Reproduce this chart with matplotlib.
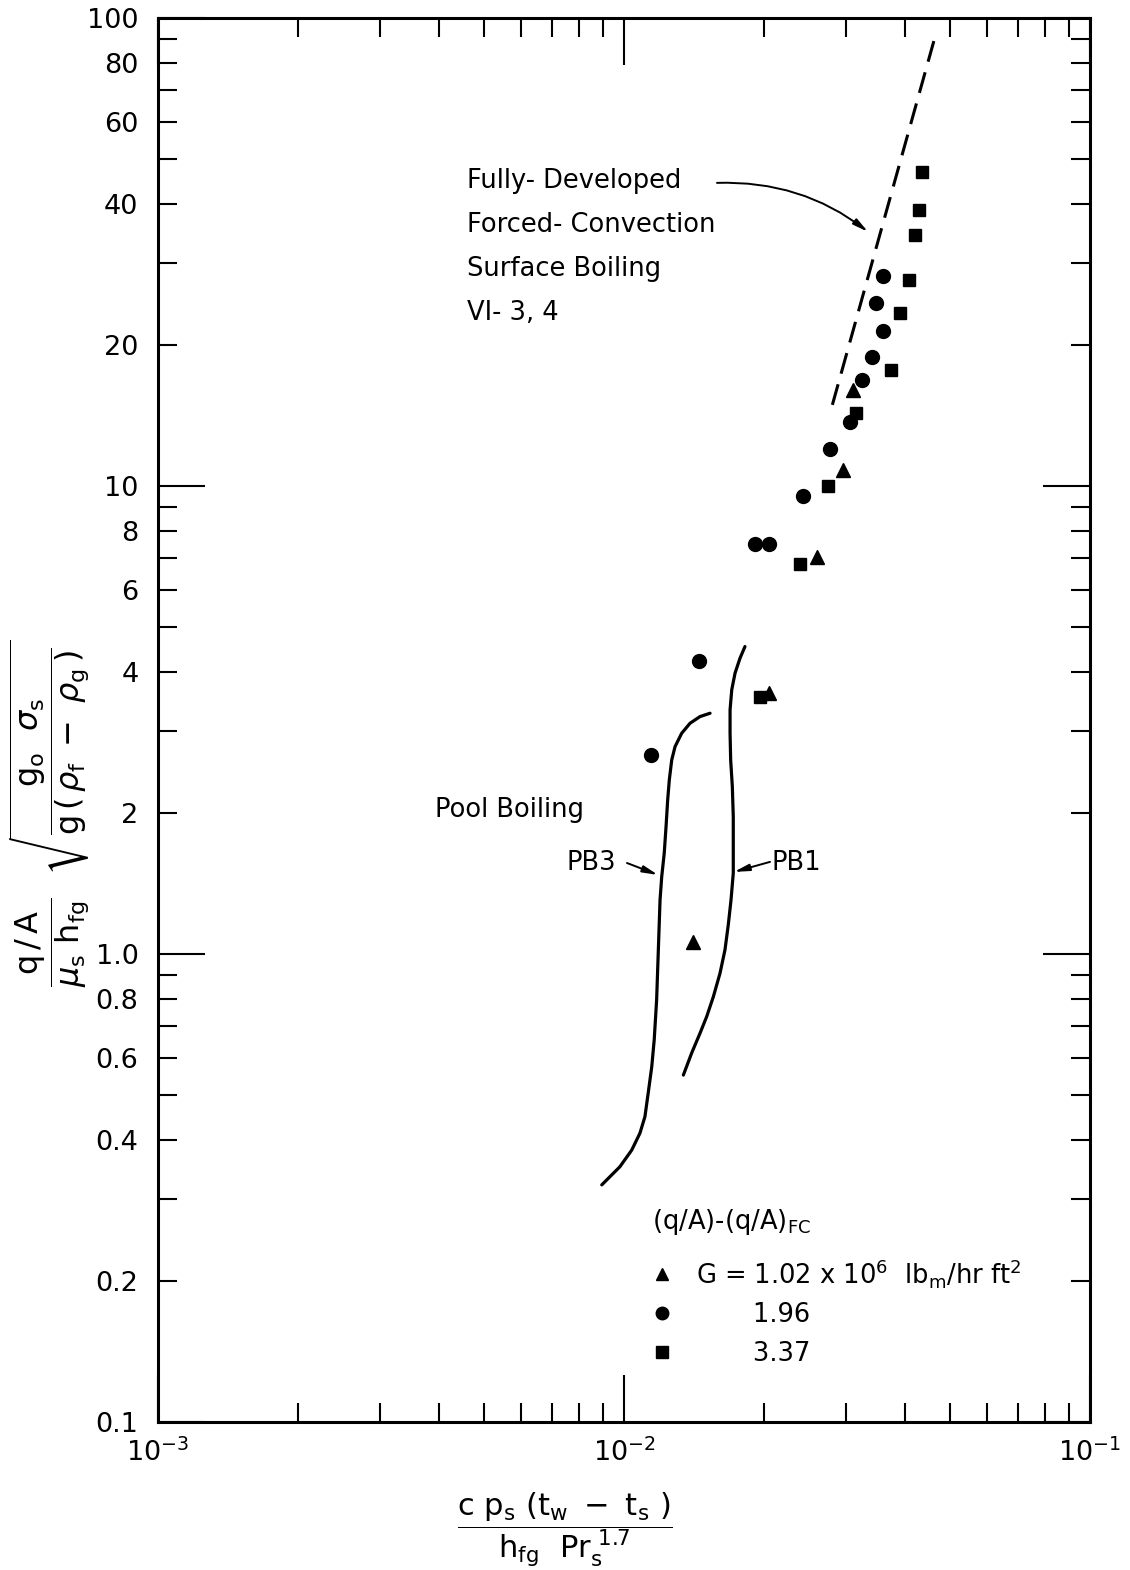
import matplotlib.pyplot as plt
from matplotlib.lines import Line2D

plt.rcParams['font.family'] = 'DejaVu Sans'
plt.rcParams['mathtext.fontset'] = 'dejavusans'

# data points, (q/A)-(q/A)_FC
# G = 1.02 x 10^6
tri_x = [0.01406, 0.02047, 0.02594, 0.0295, 0.0310]
tri_y = [1.061, 3.61, 7.05, 10.82, 16.0]
# G = 1.96 x 10^6
circ_x = [0.01143, 0.01449, 0.0191, 0.0205, 0.0242, 0.0277, 0.0305,
          0.0324, 0.0341, 0.0359, 0.0347, 0.0359]
circ_y = [2.66, 4.23, 7.52, 7.52, 9.52, 12.0, 13.7, 16.8, 18.9, 21.4, 24.6, 28.1]
# G = 3.37 x 10^6
sq_x = [0.0196, 0.0239, 0.0274, 0.0315, 0.0374, 0.0391, 0.0409, 0.0421, 0.0430, 0.0436]
sq_y = [3.54, 6.81, 10.0, 14.3, 17.7, 23.4, 27.6, 34.4, 38.9, 46.9]

# fully developed forced-convection surface boiling (VI-3,4)
fc_x = [0.0280, 0.0465]
fc_y = [14.9, 91.1]

# pool boiling curves
pb3_x = [0.00896, 0.00980, 0.01039, 0.01082, 0.01109, 0.01127, 0.01147, 0.01161,
         0.01175, 0.01185, 0.01195, 0.01205, 0.01220, 0.01231, 0.01241, 0.01251,
         0.01266, 0.01287, 0.01330, 0.01386, 0.01456, 0.01530]
pb3_y = [0.321, 0.351, 0.381, 0.414, 0.449, 0.504, 0.574, 0.655,
         0.797, 1.020, 1.304, 1.463, 1.641, 1.871, 2.134, 2.354,
         2.597, 2.773, 2.962, 3.111, 3.215, 3.268]
pb1_x = [0.01341, 0.01397, 0.01456, 0.01505, 0.01555, 0.01607, 0.01647, 0.01674,
         0.01697, 0.01716, 0.01716, 0.01716, 0.01708, 0.01694, 0.01689, 0.01689,
         0.01703, 0.01731, 0.01774, 0.01818]
pb1_y = [0.551, 0.614, 0.677, 0.735, 0.810, 0.909, 1.020, 1.153,
         1.304, 1.488, 1.668, 1.965, 2.278, 2.597, 2.962, 3.322,
         3.666, 3.980, 4.284, 4.537]

y_major = [0.1, 1, 10, 100]
y_major_labels = ['0.1', '1.0', '10', '100']
y_minor = [0.2, 0.3, 0.4, 0.5, 0.6, 0.7, 0.8, 0.9,
           2, 3, 4, 5, 6, 7, 8, 9,
           20, 30, 40, 50, 60, 70, 80, 90]
y_minor_labels = ['0.2', '', '0.4', '', '0.6', '', '0.8', '',
                  '2', '', '4', '', '6', '', '8', '',
                  '20', '', '40', '', '60', '', '80', '']

fig = plt.figure(figsize=(11.3, 15.7), dpi=100)
ax = fig.add_axes([0.1398, 0.0943, 0.8248, 0.8943])
ax.set_xscale('log')
ax.set_yscale('log')
ax.set_xlim(1e-3, 1e-1)
ax.set_ylim(0.1, 100)

ax.plot(pb3_x, pb3_y, color='k', lw=2.3, solid_capstyle='round', solid_joinstyle='round')
ax.plot(pb1_x, pb1_y, color='k', lw=2.3, solid_capstyle='round', solid_joinstyle='round')
ax.plot(fc_x, fc_y, color='k', lw=2.2, dashes=(7, 3.6))

ax.plot(tri_x, tri_y, ls='none', marker='^', ms=10, color='k')
ax.plot(circ_x, circ_y, ls='none', marker='o', ms=10, color='k')
ax.plot(sq_x, sq_y, ls='none', marker='s', ms=9, color='k')

# axes styling
for s in ax.spines.values():
    s.set_linewidth(2.2)
ax.set_yticks(y_major)
ax.set_yticklabels(y_major_labels)
ax.set_yticks(y_minor, minor=True)
ax.set_yticklabels(y_minor_labels, minor=True)
ax.tick_params(which='both', direction='in', top=True, right=True,
               width=1.5, labelsize=19.5)
ax.tick_params(which='major', length=34)
ax.tick_params(which='minor', length=14)
ax.tick_params(axis='y', which='both', pad=14)
ax.tick_params(axis='x', which='both', pad=12)

# annotations
txt = dict(transform=ax.transAxes, fontsize=18.5, va='center', ha='left')
ax.text(0.3315, 0.8839, 'Fully- Developed', **txt)
ax.text(0.3315, 0.8526, 'Forced- Convection', **txt)
ax.text(0.3315, 0.8212, 'Surface Boiling', **txt)
ax.text(0.3315, 0.7899, 'VI- 3, 4', **txt)
ax.text(0.2972, 0.4359, 'Pool Boiling', **txt)
ax.text(0.4378, 0.3981, 'PB3', **txt)
ax.text(0.6588, 0.3981, 'PB1', **txt)

arrow = dict(arrowstyle='-|>,head_length=0.9,head_width=0.2', color='k',
             lw=1.4, shrinkA=0, shrinkB=0)
ax.annotate('', xy=(0.0334, 34.9), xytext=(0.5998, 0.8825),
            textcoords='axes fraction',
            arrowprops=dict(connectionstyle='arc3,rad=-0.18', **arrow))
ax.annotate('', xy=(0.01183, 1.475), xytext=(0.5032, 0.3981),
            textcoords='axes fraction', arrowprops=arrow)
ax.annotate('', xy=(0.01722, 1.497), xytext=(0.6567, 0.3989),
            textcoords='axes fraction', arrowprops=arrow)

# legend
handles = [Line2D([], [], ls='none', marker='^', ms=9, color='k'),
           Line2D([], [], ls='none', marker='o', ms=9, color='k'),
           Line2D([], [], ls='none', marker='s', ms=8, color='k')]
labels = [r'G = 1.02 x 10$^6$  lb$_\mathrm{m}$/hr ft$^2$',
          '       1.96',
          '       3.37']
leg = ax.legend(handles, labels, title=r'(q/A)-(q/A)$_\mathrm{FC}$', loc='upper left',
                bbox_to_anchor=(0.530, 0.153), frameon=False, fontsize=18.5,
                title_fontsize=18.5, handlelength=0.8, handletextpad=0.9,
                labelspacing=0.5, borderpad=0, borderaxespad=0, alignment='left')
leg._legend_box.sep = 14

# axis labels
fig.text(0.5, 0.0255,
         r'$\dfrac{\mathrm{c\ p_s\ (t_w\ -\ t_s\ )}}{\mathrm{h_{fg}\ \ Pr_s^{\ 1.7}}}$',
         ha='center', va='center', fontsize=22)
fig.text(0.044, 0.482,
         r'$\dfrac{\mathrm{q\,/\,A}}{\mu_\mathrm{s}\ \mathrm{h_{fg}}}\ \ '
         r'\sqrt{\dfrac{\mathrm{g_o}\ \ \sigma_\mathrm{s}}'
         r'{\mathrm{g\,(\,}\rho_\mathrm{f}\ -\ \rho_\mathrm{g}\,\mathrm{)}}}$',
         ha='center', va='center', rotation=90, fontsize=23)

fig.savefig('out.png', dpi=100)
